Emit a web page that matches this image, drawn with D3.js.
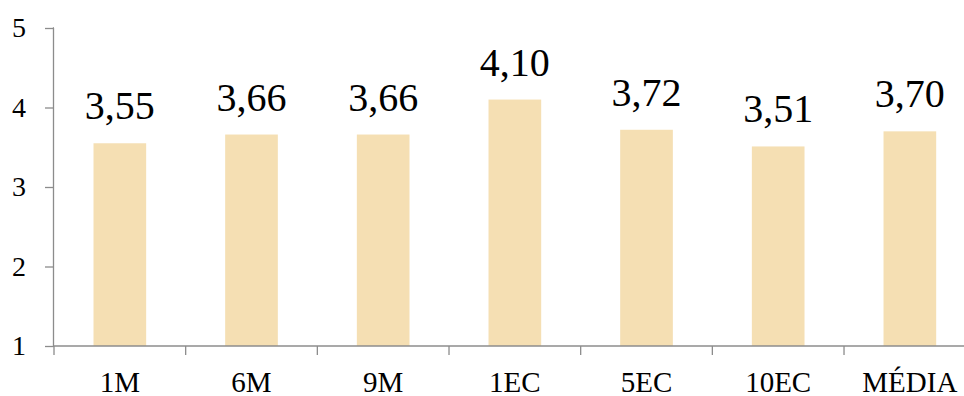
<!DOCTYPE html>
<html>
<head>
<meta charset="utf-8">
<script src="https://cdn.jsdelivr.net/npm/d3@7"></script>
<style>
  html, body { margin: 0; padding: 0; background: #fff; }
  svg { display: block; }
  svg text { font-family: "Liberation Serif", "Times New Roman", "DejaVu Serif", serif; fill: #000; }
</style>
</head>
<body>
<svg id="chart" width="964" height="396"></svg>
<script>
// Average score per group
const categories = ["1M", "6M", "9M", "1EC", "5EC", "10EC", "MÉDIA"];
const values = [3.55, 3.66, 3.66, 4.10, 3.72, 3.51, 3.70];
const yTicks = [1, 2, 3, 4, 5];

const svg = d3.select("#chart");
const plotLeft = 54, plotTop = 28, plotBottom = 346;
const band = 131.67;
const plotRight = plotLeft + band * categories.length;

const x = d3.scaleBand().domain(categories).range([plotLeft, plotRight]).paddingInner(0.6).paddingOuter(0.3);
const y = d3.scaleLinear().domain([1, 5]).range([plotBottom, plotTop]);

const axisColor = "#8c8c8c";

// Bars
svg.append("g").selectAll("rect")
  .data(values)
  .join("rect")
  .attr("x", (d, i) => x(categories[i]))
  .attr("width", x.bandwidth())
  .attr("y", d => y(d))
  .attr("height", d => y(1) - y(d))
  .attr("fill", "#f5dfb3");

// Value labels
const fmt = d => d.toFixed(2).replace(".", ",");
svg.append("g").selectAll("text")
  .data(values)
  .join("text")
  .attr("x", (d, i) => x(categories[i]) + x.bandwidth() / 2)
  .attr("y", d => y(d) - 24)
  .attr("text-anchor", "middle")
  .attr("font-size", 40)
  .text(fmt);

// Y axis
const yAxis = svg.append("g")
  .attr("transform", `translate(${plotLeft},0)`)
  .call(d3.axisLeft(y).tickValues(yTicks).tickSize(9).tickPadding(19).tickFormat(d3.format("d")));
yAxis.select(".domain").attr("stroke", axisColor).attr("stroke-width", 1.3)
  .attr("d", `M0,${plotTop}H-0.5V${plotBottom}`);
yAxis.selectAll(".tick line").attr("stroke", axisColor).attr("stroke-width", 1.3);
yAxis.selectAll(".tick text").attr("font-size", 28);

// X axis with boundary ticks between categories
const xAxis = svg.append("g").attr("transform", `translate(0,${plotBottom})`);
xAxis.append("line")
  .attr("x1", plotLeft).attr("x2", plotRight)
  .attr("stroke", axisColor).attr("stroke-width", 1.3);
const boundaries = d3.range(categories.length + 1).map(i => plotLeft + band * i);
xAxis.selectAll("line.tk")
  .data(boundaries)
  .join("line")
  .attr("class", "tk")
  .attr("x1", d => d).attr("x2", d => d)
  .attr("y1", 0).attr("y2", 9)
  .attr("stroke", axisColor).attr("stroke-width", 1.3);
xAxis.selectAll("text")
  .data(categories)
  .join("text")
  .attr("x", d => x(d) + x.bandwidth() / 2)
  .attr("y", 45.5)
  .attr("text-anchor", "middle")
  .attr("font-size", 29)
  .text(d => d);
</script>
</body>
</html>
